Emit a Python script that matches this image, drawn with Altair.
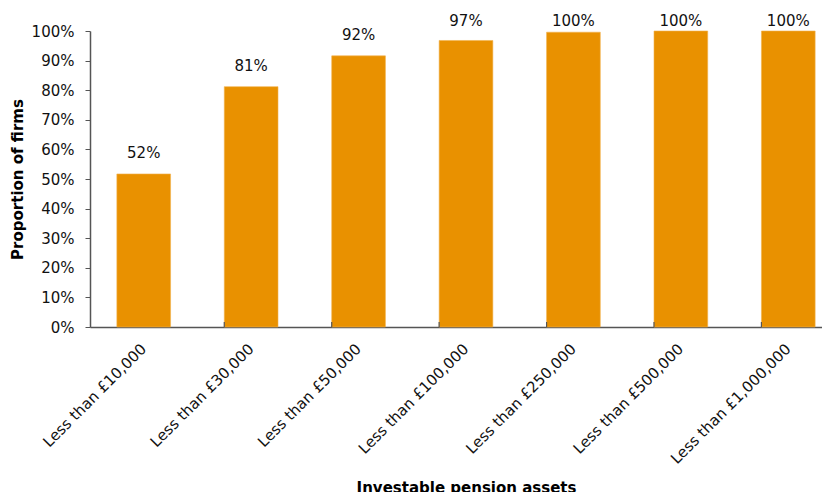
import altair as alt
import pandas as pd

categories = [
    "Less than £10,000",
    "Less than £30,000",
    "Less than £50,000",
    "Less than £100,000",
    "Less than £250,000",
    "Less than £500,000",
    "Less than £1,000,000",
]
values = [51.7, 81.2, 91.6, 96.8, 99.6, 100.0, 100.0]
labels = ["52%", "81%", "92%", "97%", "100%", "100%", "100%"]
y_ticks = [0, 10, 20, 30, 40, 50, 60, 70, 80, 90, 100]

df = pd.DataFrame({"cat": categories, "value": values, "label": labels,
                   "idx": list(range(len(categories)))})

FONT = "DejaVu Sans"
x_scale = alt.Scale(domain=categories, paddingInner=0.5, paddingOuter=0.25)
y_scale = alt.Scale(domain=[0, 100], nice=False)

x_axis = alt.Axis(title="Investable pension assets", labelAngle=-45,
                  labelFontSize=15, labelFont=FONT, labelColor="#111",
                  ticks=False, domainColor="#555", domainWidth=1.5,
                  labelPadding=14, labelOffset=-5, titleFont=FONT, titleFontSize=15,
                  titleFontWeight="bold", titleColor="#000",
                  titleX=376, titleY=153, titleBaseline="top")
y_axis = alt.Axis(title="Proportion of firms", values=y_ticks,
                  labelExpr="datum.value + '%'", grid=False, labelOverlap=False,
                  labelFontSize=15, labelFont=FONT, labelColor="#111",
                  tickSize=5, tickColor="#555", domainColor="#555",
                  domainWidth=1.5, labelPadding=11,
                  titleFont=FONT, titleFontSize=15, titleFontWeight="bold",
                  titleColor="#000", titlePadding=6)

base = alt.Chart(df)

bars = base.mark_bar(color="#E99100", stroke="#F2B24D", strokeWidth=0.6).encode(
    x=alt.X("cat:N", scale=x_scale, sort=categories, axis=x_axis),
    y=alt.Y("value:Q", scale=y_scale, axis=y_axis),
)

ticks = base.transform_filter("datum.idx > 0").mark_rule(color="#555", strokeWidth=1.2).encode(
    x=alt.X("cat:N", scale=x_scale, sort=categories, bandPosition=0, axis=x_axis),
    y=alt.value(291),
    y2=alt.value(296),
)

text = base.transform_calculate(
    ly="min(datum.value + 7, 103.5)"
).mark_text(font=FONT, fontSize=15, color="#111", baseline="middle").encode(
    x=alt.X("cat:N", scale=x_scale, sort=categories, axis=x_axis),
    y=alt.Y("ly:Q", scale=y_scale, axis=y_axis),
    text="label:N",
)

chart = alt.layer(bars, ticks, text).properties(
    width=752, height=296, background="white",
    autosize=alt.AutoSizeParams(type="none"),
    padding={"left": 82, "top": 23, "right": -20, "bottom": 180},
).configure_view(stroke=None)

chart.save("out.html", embed_options={"renderer": "svg", "actions": False})
